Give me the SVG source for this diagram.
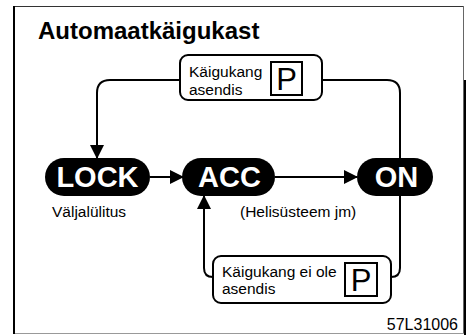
<svg xmlns="http://www.w3.org/2000/svg" width="466" height="335" viewBox="0 0 466 335">
<style>
.lbl{font-family:"Liberation Sans",Arial,sans-serif;font-size:15.5px;fill:#000}
.code{font-family:"Liberation Sans",Arial,sans-serif;font-size:16px;fill:#000}
.big{font-family:"Liberation Sans",Arial,sans-serif;font-weight:bold;font-size:29px;fill:#fff}
.pill{fill:#000}
.box{fill:#fff;stroke:#000;stroke-width:2}
.pbox{fill:#fff;stroke:#000;stroke-width:2}
.ptxt{font-family:"Liberation Sans",Arial,sans-serif;font-size:31px;fill:#000}
.conn{fill:none;stroke:#000;stroke-width:2}
</style>
<defs>
<marker id="ah" markerWidth="14" markerHeight="14" refX="13" refY="7" orient="auto" markerUnits="userSpaceOnUse">
<path d="M0,0 L14,7 L0,14 Z" fill="#000"/>
</marker>
</defs>
<rect x="0" y="0" width="466" height="335" fill="#fff"/>
<g id="frame">
<line x1="13" y1="6.5" x2="463" y2="6.5" stroke="#333" stroke-width="1"/>
<line x1="463.5" y1="6" x2="463.5" y2="333" stroke="#666" stroke-width="1"/>
<line x1="13" y1="333.5" x2="464" y2="333.5" stroke="#999" stroke-width="1"/>
<line x1="14" y1="6" x2="14" y2="334" stroke="#000" stroke-width="2"/>
<rect x="464" y="80" width="2" height="255" fill="#000"/>
</g>
<text x="38" y="39" font-family="Liberation Sans, Arial, sans-serif" font-weight="bold" font-size="24" fill="#000">Automaatkäigukast</text>
<g id="connectors">
<path class="conn" d="M180,80 H110 Q97,80 97,93 V158" marker-end="url(#ah)"/>
<path class="conn" d="M322,80 H387 Q400,80 400,93 V268 Q400,277 391,277"/>
<path class="conn" d="M213,277 Q204,277 204,268 V196" marker-end="url(#ah)"/>
<path class="conn" d="M150,177 H183" marker-end="url(#ah)"/>
<path class="conn" d="M275,177 H357" marker-end="url(#ah)"/>
</g>
<g id="top-label">
<rect class="box" x="180" y="55" width="142" height="45" rx="8"/>
<text class="lbl" x="189" y="77">Käigukang</text>
<text class="lbl" x="189" y="95">asendis</text>
<rect class="pbox" x="271" y="62" width="31" height="33"/>
<text class="ptxt" x="286.5" y="90" text-anchor="middle">P</text>
</g>
<g id="lock">
<rect class="pill" x="45" y="158" width="105" height="38" rx="19"/>
<text class="big" x="97.5" y="187" text-anchor="middle">LOCK</text>
<text class="lbl" x="52" y="217">Väljalülitus</text>
</g>
<g id="acc">
<rect class="pill" x="182" y="158" width="93" height="38" rx="19"/>
<text class="big" x="229.5" y="187" text-anchor="middle">ACC</text>
<text class="lbl" x="240" y="217">(Helisüsteem jm)</text>
</g>
<g id="on">
<rect class="pill" x="357" y="158" width="76" height="38" rx="19"/>
<text class="big" x="396.5" y="187" text-anchor="middle">ON</text>
</g>
<g id="bottom-label">
<rect class="box" x="213" y="256" width="178" height="47" rx="8"/>
<text class="lbl" x="222" y="277">Käigukang ei ole</text>
<text class="lbl" x="222" y="294">asendis</text>
<rect class="pbox" x="345" y="263" width="32" height="33"/>
<text class="ptxt" x="361" y="291" text-anchor="middle">P</text>
</g>
<text class="code" x="458" y="330" text-anchor="end">57L31006</text>
</svg>
